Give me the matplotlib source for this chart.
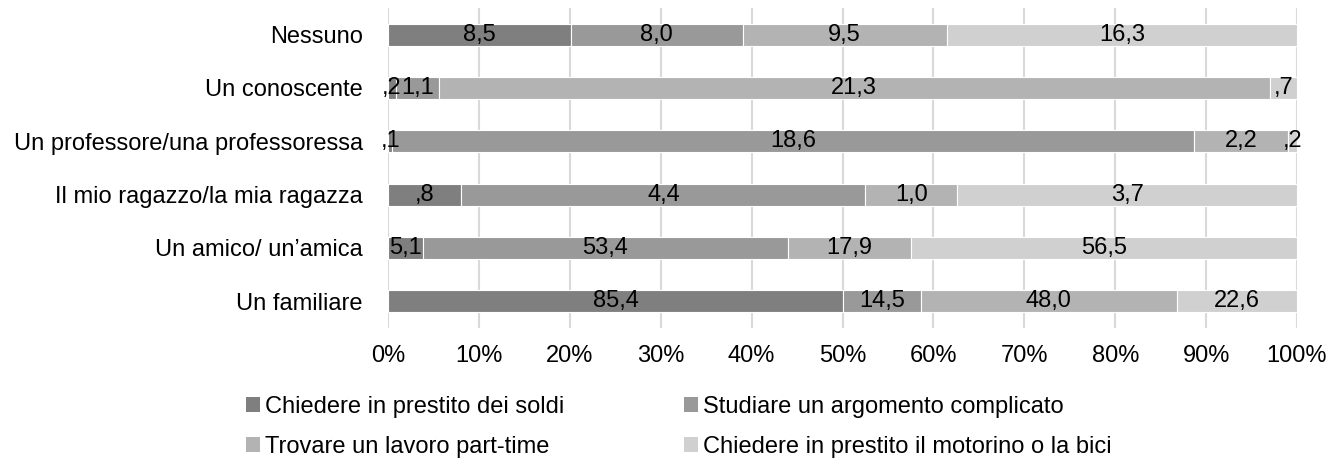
import matplotlib
matplotlib.use("Agg")
import matplotlib.pyplot as plt
import numpy as np
from matplotlib.patches import Patch
from matplotlib.ticker import FuncFormatter

plt.rcParams['font.family'] = ['Liberation Sans', 'DejaVu Sans']

categories = ["Un familiare", "Un amico/ un\u2019amica", "Il mio ragazzo/la mia ragazza",
              "Un professore/una professoressa", "Un conoscente", "Nessuno"]
series_names = ["Chiedere in prestito dei soldi", "Studiare un argomento complicato",
                "Trovare un lavoro part-time", "Chiedere in prestito il motorino o la bici"]
s_soldi = [85.4, 5.1, 0.8, 0.1, 0.2, 8.5]
s_studiare = [14.5, 53.4, 4.4, 18.6, 1.1, 8.0]
s_lavoro = [48.0, 17.9, 1.0, 2.2, 21.3, 9.5]
s_motorino = [22.6, 56.5, 3.7, 0.2, 0.7, 16.3]
colors = ["#7f7f7f", "#999999", "#b3b3b3", "#d0d0d0"]

series = [s_soldi, s_studiare, s_lavoro, s_motorino]
data = np.array(series, dtype=float)
totals = data.sum(axis=0)
pct = data / totals

FS = 17

def fmt(v):
    s = f"{v:.1f}".replace(".", ",")
    if s.startswith("0,"):
        s = s[1:]
    return s

fig = plt.figure(figsize=(13.32, 4.65), dpi=100)
ax = fig.add_axes([388/1332, 1-328/465, (1297-388)/1332, 320/465])

y = np.arange(len(categories))
left = np.zeros(len(categories))
for i in range(4):
    ax.barh(y, pct[i], left=left, height=0.41, color=colors[i],
            edgecolor="white", linewidth=0.8, label=series_names[i], zorder=3)
    for j in range(len(categories)):
        ax.text(left[j] + pct[i][j] / 2, y[j], fmt(data[i][j]), ha="center", va="center",
                fontsize=FS, color="black", zorder=4)
    left += pct[i]

ax.set_xlim(0, 1)
ax.set_ylim(-0.5, len(categories) - 0.5)
ax.set_xticks(np.linspace(0, 1, 11))
ax.xaxis.set_major_formatter(FuncFormatter(lambda v, p: f"{int(round(v*100))}%"))
ax.set_yticks(y)
ax.set_yticklabels(categories)
ax.tick_params(axis="both", length=0, labelsize=FS)
ax.tick_params(axis="x", pad=12)
ax.tick_params(axis="y", pad=18)
ax.grid(axis="x", color="#d9d9d9", linewidth=1.5, zorder=0)
for s in ax.spines.values():
    s.set_visible(False)

handles = [Patch(facecolor=c, edgecolor="none") for c in colors]
legend_kw = dict(loc="center left", frameon=False, fontsize=FS, handlelength=0.6,
                 handleheight=0.6, handletextpad=0.2, labelspacing=0.75,
                 borderpad=0, borderaxespad=0)
fig.legend([handles[0], handles[2]], [series_names[0], series_names[2]],
           bbox_to_anchor=(246/1332, 1-427/465), **legend_kw)
fig.legend([handles[1], handles[3]], [series_names[1], series_names[3]],
           bbox_to_anchor=(684/1332, 1-427/465), **legend_kw)

fig.savefig("out.png", dpi=100)
